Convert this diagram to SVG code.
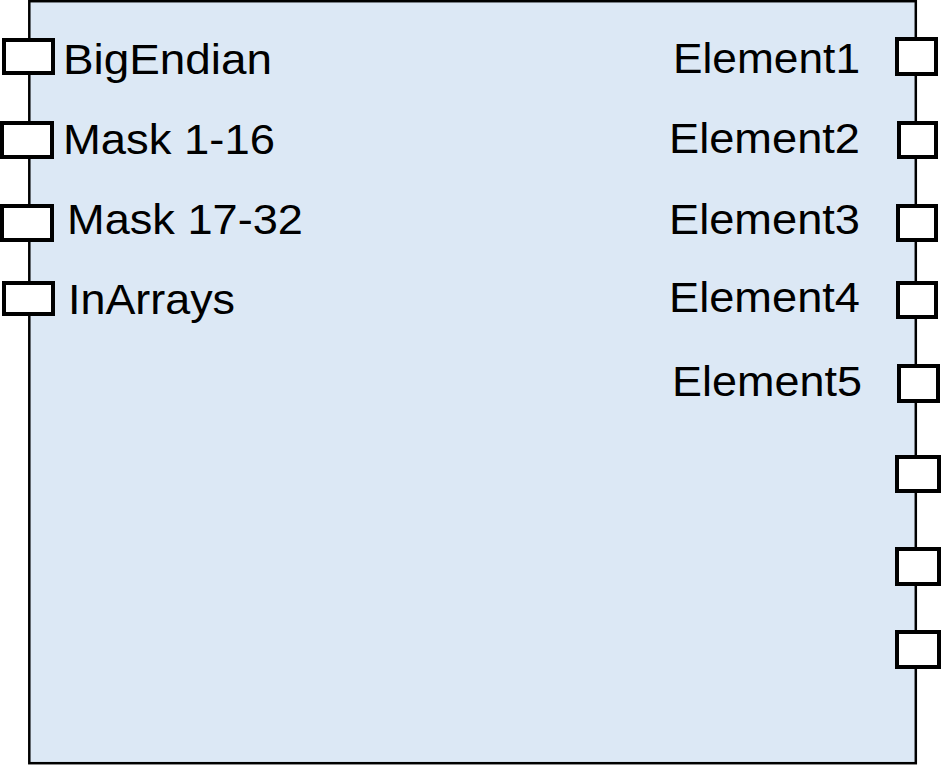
<svg xmlns="http://www.w3.org/2000/svg" width="942" height="765" viewBox="0 0 942 765">
<style>
.body{fill:#dce8f5;stroke:#000;stroke-width:2.5}
.port{fill:#fff;stroke:#000;stroke-width:4}
.lbl{font-family:"Liberation Sans",Arial,sans-serif;font-size:42px;fill:#000}
</style>
<g id="block">
<rect class="body" x="29.3" y="1.2" width="886.5" height="762"/>
</g>
<g id="inputs">
<g id="in-BigEndian"><rect class="port" x="4" y="40" width="49" height="33"/><text class="lbl" x="63" y="74" textLength="209" lengthAdjust="spacingAndGlyphs">BigEndian</text></g>
<g id="in-Mask1-16"><rect class="port" x="2" y="123" width="50" height="34"/><text class="lbl" x="63" y="154" textLength="212" lengthAdjust="spacingAndGlyphs">Mask 1-16</text></g>
<g id="in-Mask17-32"><rect class="port" x="2" y="206" width="50" height="34"/><text class="lbl" x="67" y="234" textLength="236" lengthAdjust="spacingAndGlyphs">Mask 17-32</text></g>
<g id="in-InArrays"><rect class="port" x="4" y="283" width="49" height="31"/><text class="lbl" x="68" y="314" textLength="167" lengthAdjust="spacingAndGlyphs">InArrays</text></g>
</g>
<g id="outputs">
<g id="out-Element1"><rect class="port" x="897" y="39" width="39" height="35"/><text class="lbl" x="673" y="73" textLength="187" lengthAdjust="spacingAndGlyphs">Element1</text></g>
<g id="out-Element2"><rect class="port" x="899" y="123" width="37" height="34"/><text class="lbl" x="669" y="153" textLength="191" lengthAdjust="spacingAndGlyphs">Element2</text></g>
<g id="out-Element3"><rect class="port" x="898" y="206" width="38" height="34"/><text class="lbl" x="669" y="234" textLength="191" lengthAdjust="spacingAndGlyphs">Element3</text></g>
<g id="out-Element4"><rect class="port" x="898" y="283" width="38" height="34"/><text class="lbl" x="669" y="312" textLength="191" lengthAdjust="spacingAndGlyphs">Element4</text></g>
<g id="out-Element5"><rect class="port" x="899" y="366" width="39" height="35"/><text class="lbl" x="672" y="396" textLength="190" lengthAdjust="spacingAndGlyphs">Element5</text></g>
<g id="out-6"><rect class="port" x="897" y="457" width="42" height="34"/></g>
<g id="out-7"><rect class="port" x="897" y="549" width="42" height="35"/></g>
<g id="out-8"><rect class="port" x="897" y="632" width="42" height="35"/></g>
</g>
<g id="connectors"/>
</svg>
